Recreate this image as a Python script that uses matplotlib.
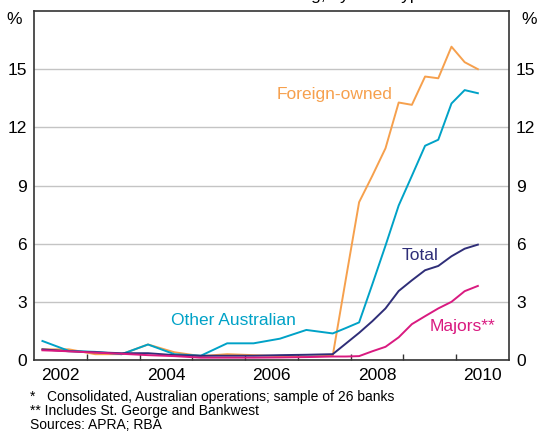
import matplotlib
matplotlib.use("Agg")
import matplotlib.pyplot as plt
import numpy as np

plt.rcParams["font.family"] = ["Liberation Sans", "DejaVu Sans"]

# Decimal-year positions: half-yearly to 2007, then quarterly
years = [2002.16, 2002.66, 2003.16, 2003.66, 2004.16, 2004.66, 2005.16, 2005.66,
         2006.16, 2006.66, 2007.16, 2007.66, 2007.91, 2008.16, 2008.41, 2008.66,
         2008.91, 2009.16, 2009.41, 2009.66, 2009.91, 2010.16, 2010.41]

foreign_owned = [0.55, 0.55, 0.3, 0.3, 0.8, 0.4, 0.2, 0.3, 0.25, 0.2, 0.17, 0.22,
                 4.2, 8.14, 9.5, 10.92, 13.28, 13.16, 14.62, 14.53, 16.16, 15.36, 15.0]
other_australian = [0.98, 0.47, 0.42, 0.3, 0.8, 0.3, 0.22, 0.86, 0.86, 1.1, 1.55, 1.37,
                    1.65, 1.94, 3.9, 5.9, 7.97, 9.5, 11.05, 11.36, 13.23, 13.92, 13.76]
total = [0.55, 0.45, 0.4, 0.35, 0.35, 0.25, 0.22, 0.22, 0.22, 0.25, 0.27, 0.3,
         0.85, 1.4, 2.0, 2.66, 3.56, 4.11, 4.63, 4.85, 5.35, 5.74, 5.95]
majors = [0.5, 0.45, 0.38, 0.32, 0.25, 0.2, 0.12, 0.12, 0.12, 0.13, 0.15, 0.18,
          0.18, 0.2, 0.45, 0.68, 1.17, 1.85, 2.26, 2.66, 3.0, 3.55, 3.82]

year_labels = ["2002", "2004", "2006", "2008", "2010"]
y_ticks = [0, 3, 6, 9, 12, 15]

c_orange = "#F6A04D"
c_cyan = "#00A2C7"
c_navy = "#2F2E78"
c_magenta = "#D91A80"

fig = plt.figure(figsize=(5.4, 4.37), dpi=100)
ax = fig.add_axes([34 / 540, 1 - 360 / 437, 475 / 540, 349 / 437])

ax.plot(years, foreign_owned, color=c_orange, lw=1.4)
ax.plot(years, other_australian, color=c_cyan, lw=1.4)
ax.plot(years, total, color=c_navy, lw=1.4)
ax.plot(years, majors, color=c_magenta, lw=1.4)

ax.set_xlim(2002, 2011)
ax.set_ylim(0, 18)

# year ticks at boundaries, labels mid-year
ax.set_xticks(np.arange(2003, 2011))
ax.set_xticklabels([])
ax.set_xticks([int(y) + 0.5 for y in year_labels], minor=True)
ax.set_xticklabels(year_labels, minor=True, fontsize=12.5)
ax.tick_params(axis="x", which="major", direction="in", length=4, width=1, color="#333333")
ax.tick_params(axis="x", which="minor", length=0, pad=6)

ax.set_yticks(y_ticks)
ax.set_yticklabels([str(v) for v in y_ticks], fontsize=12.5)
ax.tick_params(axis="y", length=0, pad=5, labelright=True)
ax.grid(axis="y", color="#C4C4C4", lw=1)
ax.set_axisbelow(True)
for s in ax.spines.values():
    s.set_color("#333333")
    s.set_linewidth(1.2)

ax.text(-0.025, 0.977, "%", transform=ax.transAxes, ha="right", va="center", fontsize=12.5)
ax.text(1.025, 0.977, "%", transform=ax.transAxes, ha="left", va="center", fontsize=12.5)

ax.text(2007.70, 13.7, "Foreign-owned", color=c_orange, fontsize=12.5, ha="center", va="center")
ax.text(2005.78, 2.03, "Other Australian", color=c_cyan, fontsize=12.5, ha="center", va="center")
ax.text(2009.31, 5.4, "Total", color=c_navy, fontsize=12.5, ha="center", va="center")
ax.text(2010.11, 1.74, "Majors**", color=c_magenta, fontsize=12.5, ha="center", va="center")

# title is mostly cut off at the top edge, as in the reference
fig.text(271 / 540, 1.0, "Share of loans outstanding, by bank type", ha="center",
         va="baseline", fontsize=12.5)

notes = ["*   Consolidated, Australian operations; sample of 26 banks",
         "** Includes St. George and Bankwest",
         "Sources: APRA; RBA"]
for i, line in enumerate(notes):
    fig.text(30 / 540, 1 - (397 + 14 * i) / 437, line, ha="left", va="center", fontsize=10)

fig.savefig("out.png", dpi=100)
